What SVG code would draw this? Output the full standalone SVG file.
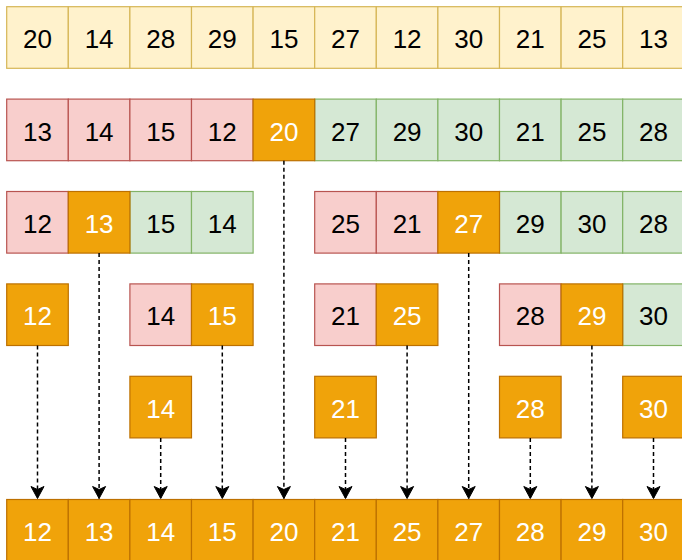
<svg xmlns="http://www.w3.org/2000/svg" width="682" height="560" viewBox="0 0 682 560">
<style>
rect{stroke-width:1.2}
.y rect{fill:#fff2cc;stroke:#d6b656}
.r rect{fill:#f8cecc;stroke:#b85450}
.g rect{fill:#d5e8d4;stroke:#82b366}
.o rect{fill:#f0a30a;stroke:#bd7000}
text{font-family:"Liberation Sans",Arial,Helvetica,sans-serif;font-size:26px;text-anchor:middle;fill:#000}
.o text{fill:#fff}
.c line{stroke:#000;stroke-width:1.5;stroke-dasharray:4 3;fill:none}
</style>
<defs>
<marker id="ah" markerUnits="userSpaceOnUse" markerWidth="16" markerHeight="16" viewBox="-14 -8 16 16" refX="0" refY="0" orient="auto">
<path d="M0,0 L-12,-6.5 L-9,0 L-12,6.5 Z" fill="#000" stroke="#000" stroke-width="1"/>
</marker>
</defs>
<!-- Row 1 -->
<g id="r1">
<g id="r1c0" class="y"><rect x="6.7" y="6.7" width="61.6" height="61.6"/><text x="37.5" y="48.2">20</text></g>
<g id="r1c1" class="y"><rect x="68.3" y="6.7" width="61.6" height="61.6"/><text x="99.1" y="48.2">14</text></g>
<g id="r1c2" class="y"><rect x="129.9" y="6.7" width="61.6" height="61.6"/><text x="160.7" y="48.2">28</text></g>
<g id="r1c3" class="y"><rect x="191.5" y="6.7" width="61.6" height="61.6"/><text x="222.3" y="48.2">29</text></g>
<g id="r1c4" class="y"><rect x="253.1" y="6.7" width="61.6" height="61.6"/><text x="283.9" y="48.2">15</text></g>
<g id="r1c5" class="y"><rect x="314.7" y="6.7" width="61.6" height="61.6"/><text x="345.5" y="48.2">27</text></g>
<g id="r1c6" class="y"><rect x="376.3" y="6.7" width="61.6" height="61.6"/><text x="407.1" y="48.2">12</text></g>
<g id="r1c7" class="y"><rect x="437.9" y="6.7" width="61.6" height="61.6"/><text x="468.7" y="48.2">30</text></g>
<g id="r1c8" class="y"><rect x="499.5" y="6.7" width="61.6" height="61.6"/><text x="530.3" y="48.2">21</text></g>
<g id="r1c9" class="y"><rect x="561.1" y="6.7" width="61.6" height="61.6"/><text x="591.9" y="48.2">25</text></g>
<g id="r1c10" class="y"><rect x="622.7" y="6.7" width="61.6" height="61.6"/><text x="653.5" y="48.2">13</text></g>
</g>
<!-- Row 2 -->
<g id="r2">
<g id="r2c0" class="r"><rect x="6.7" y="99.1" width="61.6" height="61.6"/><text x="37.5" y="140.6">13</text></g>
<g id="r2c1" class="r"><rect x="68.3" y="99.1" width="61.6" height="61.6"/><text x="99.1" y="140.6">14</text></g>
<g id="r2c2" class="r"><rect x="129.9" y="99.1" width="61.6" height="61.6"/><text x="160.7" y="140.6">15</text></g>
<g id="r2c3" class="r"><rect x="191.5" y="99.1" width="61.6" height="61.6"/><text x="222.3" y="140.6">12</text></g>
<g id="r2c5" class="g"><rect x="314.7" y="99.1" width="61.6" height="61.6"/><text x="345.5" y="140.6">27</text></g>
<g id="r2c6" class="g"><rect x="376.3" y="99.1" width="61.6" height="61.6"/><text x="407.1" y="140.6">29</text></g>
<g id="r2c7" class="g"><rect x="437.9" y="99.1" width="61.6" height="61.6"/><text x="468.7" y="140.6">30</text></g>
<g id="r2c8" class="g"><rect x="499.5" y="99.1" width="61.6" height="61.6"/><text x="530.3" y="140.6">21</text></g>
<g id="r2c9" class="g"><rect x="561.1" y="99.1" width="61.6" height="61.6"/><text x="591.9" y="140.6">25</text></g>
<g id="r2c10" class="g"><rect x="622.7" y="99.1" width="61.6" height="61.6"/><text x="653.5" y="140.6">28</text></g>
<g id="r2c4" class="o"><rect x="253.1" y="99.1" width="61.6" height="61.6"/><text x="283.9" y="140.6">20</text></g>
</g>
<!-- Row 3 -->
<g id="r3">
<g id="r3c0" class="r"><rect x="6.7" y="191.5" width="61.6" height="61.6"/><text x="37.5" y="233">12</text></g>
<g id="r3c2" class="g"><rect x="129.9" y="191.5" width="61.6" height="61.6"/><text x="160.7" y="233">15</text></g>
<g id="r3c3" class="g"><rect x="191.5" y="191.5" width="61.6" height="61.6"/><text x="222.3" y="233">14</text></g>
<g id="r3c1" class="o"><rect x="68.3" y="191.5" width="61.6" height="61.6"/><text x="99.1" y="233">13</text></g>
<g id="r3c5" class="r"><rect x="314.7" y="191.5" width="61.6" height="61.6"/><text x="345.5" y="233">25</text></g>
<g id="r3c6" class="r"><rect x="376.3" y="191.5" width="61.6" height="61.6"/><text x="407.1" y="233">21</text></g>
<g id="r3c8" class="g"><rect x="499.5" y="191.5" width="61.6" height="61.6"/><text x="530.3" y="233">29</text></g>
<g id="r3c9" class="g"><rect x="561.1" y="191.5" width="61.6" height="61.6"/><text x="591.9" y="233">30</text></g>
<g id="r3c10" class="g"><rect x="622.7" y="191.5" width="61.6" height="61.6"/><text x="653.5" y="233">28</text></g>
<g id="r3c7" class="o"><rect x="437.9" y="191.5" width="61.6" height="61.6"/><text x="468.7" y="233">27</text></g>
</g>
<!-- Row 4 -->
<g id="r4">
<g id="r4c0" class="o"><rect x="6.7" y="283.9" width="61.6" height="61.6"/><text x="37.5" y="325.4">12</text></g>
<g id="r4c2" class="r"><rect x="129.9" y="283.9" width="61.6" height="61.6"/><text x="160.7" y="325.4">14</text></g>
<g id="r4c3" class="o"><rect x="191.5" y="283.9" width="61.6" height="61.6"/><text x="222.3" y="325.4">15</text></g>
<g id="r4c5" class="r"><rect x="314.7" y="283.9" width="61.6" height="61.6"/><text x="345.5" y="325.4">21</text></g>
<g id="r4c6" class="o"><rect x="376.3" y="283.9" width="61.6" height="61.6"/><text x="407.1" y="325.4">25</text></g>
<g id="r4c8" class="r"><rect x="499.5" y="283.9" width="61.6" height="61.6"/><text x="530.3" y="325.4">28</text></g>
<g id="r4c10" class="g"><rect x="622.7" y="283.9" width="61.6" height="61.6"/><text x="653.5" y="325.4">30</text></g>
<g id="r4c9" class="o"><rect x="561.1" y="283.9" width="61.6" height="61.6"/><text x="591.9" y="325.4">29</text></g>
</g>
<!-- Row 5 -->
<g id="r5">
<g id="r5c2" class="o"><rect x="129.9" y="376.3" width="61.6" height="61.6"/><text x="160.7" y="417.8">14</text></g>
<g id="r5c5" class="o"><rect x="314.7" y="376.3" width="61.6" height="61.6"/><text x="345.5" y="417.8">21</text></g>
<g id="r5c8" class="o"><rect x="499.5" y="376.3" width="61.6" height="61.6"/><text x="530.3" y="417.8">28</text></g>
<g id="r5c10" class="o"><rect x="622.7" y="376.3" width="61.6" height="61.6"/><text x="653.5" y="417.8">30</text></g>
</g>
<!-- Row 6 -->
<g id="r6">
<g id="r6c0" class="o"><rect x="6.7" y="499.5" width="61.6" height="61.6"/><text x="37.5" y="541">12</text></g>
<g id="r6c1" class="o"><rect x="68.3" y="499.5" width="61.6" height="61.6"/><text x="99.1" y="541">13</text></g>
<g id="r6c2" class="o"><rect x="129.9" y="499.5" width="61.6" height="61.6"/><text x="160.7" y="541">14</text></g>
<g id="r6c3" class="o"><rect x="191.5" y="499.5" width="61.6" height="61.6"/><text x="222.3" y="541">15</text></g>
<g id="r6c4" class="o"><rect x="253.1" y="499.5" width="61.6" height="61.6"/><text x="283.9" y="541">20</text></g>
<g id="r6c5" class="o"><rect x="314.7" y="499.5" width="61.6" height="61.6"/><text x="345.5" y="541">21</text></g>
<g id="r6c6" class="o"><rect x="376.3" y="499.5" width="61.6" height="61.6"/><text x="407.1" y="541">25</text></g>
<g id="r6c7" class="o"><rect x="437.9" y="499.5" width="61.6" height="61.6"/><text x="468.7" y="541">27</text></g>
<g id="r6c8" class="o"><rect x="499.5" y="499.5" width="61.6" height="61.6"/><text x="530.3" y="541">28</text></g>
<g id="r6c9" class="o"><rect x="561.1" y="499.5" width="61.6" height="61.6"/><text x="591.9" y="541">29</text></g>
<g id="r6c10" class="o"><rect x="622.7" y="499.5" width="61.6" height="61.6"/><text x="653.5" y="541">30</text></g>
</g>
<!-- Connectors -->
<g id="connectors" class="c">
<line x1="37.5" y1="345.5" x2="37.5" y2="498.5" marker-end="url(#ah)"/>
<line x1="99.1" y1="253.1" x2="99.1" y2="498.5" marker-end="url(#ah)"/>
<line x1="160.7" y1="437.9" x2="160.7" y2="498.5" marker-end="url(#ah)"/>
<line x1="222.3" y1="345.5" x2="222.3" y2="498.5" marker-end="url(#ah)"/>
<line x1="283.9" y1="160.7" x2="283.9" y2="498.5" marker-end="url(#ah)"/>
<line x1="345.5" y1="437.9" x2="345.5" y2="498.5" marker-end="url(#ah)"/>
<line x1="407.1" y1="345.5" x2="407.1" y2="498.5" marker-end="url(#ah)"/>
<line x1="468.7" y1="253.1" x2="468.7" y2="498.5" marker-end="url(#ah)"/>
<line x1="530.3" y1="437.9" x2="530.3" y2="498.5" marker-end="url(#ah)"/>
<line x1="591.9" y1="345.5" x2="591.9" y2="498.5" marker-end="url(#ah)"/>
<line x1="653.5" y1="437.9" x2="653.5" y2="498.5" marker-end="url(#ah)"/>
</g>
</svg>
